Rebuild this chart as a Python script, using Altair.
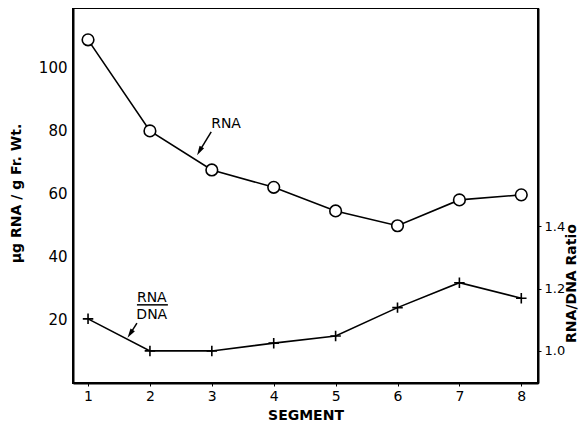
import altair as alt
import pandas as pd

segments = [1, 2, 3, 4, 5, 6, 7, 8]
rna = [108.9, 80.0, 67.6, 62.1, 54.6, 49.9, 58.1, 59.7]
ratio = [1.103, 1.0, 1.0, 1.025, 1.048, 1.139, 1.219, 1.169]
left_ticks = [20, 40, 60, 80, 100]
right_ticks = [1.0, 1.2, 1.4]

# annotation positions (data units of the left axis)
label_text = ["RNA", "RNA", "DNA"]
label_x = [3.23, 2.03, 2.03]
label_y = [82.2, 27.1, 21.7]
arrow_x = [2.99, 1.79]
arrow_y = [79.7, 19.0]
arrow_x2 = [2.80, 1.68]
arrow_y2 = [73.6, 15.6]
arrow_angle = [210, 213]
bar_x = [1.79]
bar_x2 = [2.29]
bar_y = [24.8]

FONT = "DejaVu Sans"
xdom = [0.757, 8.27]
ydom = [0, 119]
rdom = [0.897, 2.101]

df = pd.DataFrame({"segment": segments, "rna": rna, "ratio": ratio})
labels = pd.DataFrame({"t": label_text, "x": label_x, "y": label_y})
arrows = pd.DataFrame({"x": arrow_x, "y": arrow_y, "x2": arrow_x2, "y2": arrow_y2, "a": arrow_angle})
bars = pd.DataFrame({"x": bar_x, "x2": bar_x2, "y": bar_y})

xs = alt.Scale(domain=xdom, nice=False, zero=False)
xaxis = alt.Axis(values=segments, format="d", title="SEGMENT", labelFontSize=14,
                 labelPadding=3, tickSize=3, titleFontSize=14, titleY=32,
                 titleBaseline="middle", titleFontWeight="bold", grid=False)
ys = alt.Scale(domain=ydom, nice=False, zero=False)
yaxis = alt.Axis(values=left_ticks, title="\u00b5g RNA / g Fr. Wt.", orient="left",
                 labelFontSize=15, labelPadding=6, ticks=False, titleFontSize=14,
                 titleX=-57, titleY=185, titleAngle=270, titleBaseline="middle",
                 titleAlign="center", titleFontWeight="bold", grid=False)
rs = alt.Scale(domain=rdom, nice=False, zero=False)
raxis = alt.Axis(values=right_ticks, format=".1f", title="RNA/DNA Ratio", orient="right",
                 labelFontSize=13, labelPadding=3, tickSize=3, titleFontSize=14,
                 titleX=33, titleY=275, titleAngle=270, titleBaseline="middle",
                 titleAlign="center", titleFontWeight="bold", grid=False)

base = alt.Chart(df)
X = alt.X("segment:Q", scale=xs, axis=xaxis)

rna_line = base.mark_line(color="black", strokeWidth=1.6).encode(
    x=X, y=alt.Y("rna:Q", scale=ys, axis=yaxis))
rna_pts = base.mark_point(shape="circle", size=135, filled=True, fill="white",
                          stroke="black", strokeWidth=1.6, opacity=1).encode(
    x=X, y=alt.Y("rna:Q", scale=ys, axis=yaxis))

txt = alt.Chart(labels).mark_text(font=FONT, fontSize=14, color="black").encode(
    x=alt.X("x:Q", scale=xs), y=alt.Y("y:Q", scale=ys), text="t:N")
arr = alt.Chart(arrows).mark_rule(color="black", strokeWidth=1.5).encode(
    x=alt.X("x:Q", scale=xs), y=alt.Y("y:Q", scale=ys), x2="x2:Q", y2="y2:Q")
head = alt.Chart(arrows).mark_point(shape="M0,-1L0.55,1L-0.55,1Z", size=90, filled=True,
                                    color="black", opacity=1).encode(
    x=alt.X("x2:Q", scale=xs), y=alt.Y("y2:Q", scale=ys), angle=alt.Angle("a:Q", scale=None))
bar = alt.Chart(bars).mark_rule(color="black", strokeWidth=1.5).encode(
    x=alt.X("x:Q", scale=xs), x2="x2:Q", y=alt.Y("y:Q", scale=ys))

left = alt.layer(rna_line, rna_pts, txt, arr, head, bar)

ratio_line = base.mark_line(color="black", strokeWidth=1.6).encode(
    x=X, y=alt.Y("ratio:Q", scale=rs, axis=raxis))
ratio_pts = base.mark_point(shape="M-1,0H1M0,-1V1", size=110, filled=False,
                            color="black", strokeWidth=1.6, opacity=1).encode(
    x=X, y=alt.Y("ratio:Q", scale=rs, axis=raxis))
right = alt.layer(ratio_line, ratio_pts)

chart = alt.layer(left, right).resolve_scale(y="independent").properties(
    width=465, height=375,
    background="white",
    autosize=alt.AutoSizeParams(type="none"),
    padding={"left": 65, "top": 0, "right": 41, "bottom": 40},
).configure(font=FONT).configure_view(stroke="black", strokeWidth=2).configure_axis(
    domainColor="black", domainWidth=2, tickColor="black", labelColor="black",
    titleColor="black", labelFont=FONT, titleFont=FONT,
)

chart.save("out.html", embed_options={"renderer": "svg", "actions": False})
